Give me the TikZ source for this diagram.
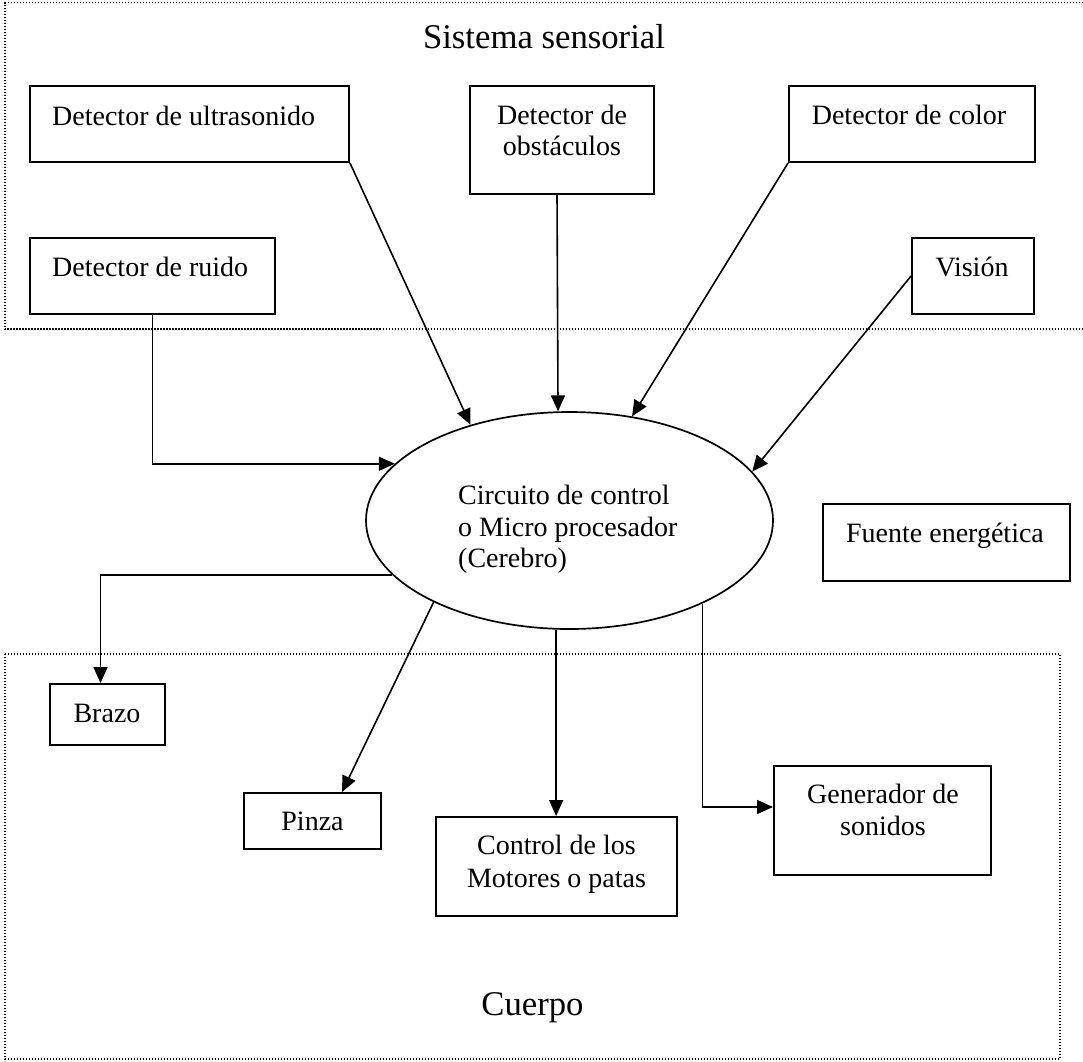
\documentclass[tikz,border=0pt]{standalone}
\usepackage{fontspec}
\setmainfont{Liberation Serif}
\usetikzlibrary{shapes.geometric,arrows.meta}
\begin{document}
\begin{tikzpicture}[x=1pt,y=-1pt,
  box/.style={draw,rectangle,line width=1.9pt,inner sep=0pt},
  txt/.style={inner sep=0pt,font=\fontsize{28}{32}\selectfont},
  heading/.style={inner sep=0pt,font=\fontsize{34.7}{40}\selectfont},
  arr/.style={line width=1.6pt,-{Triangle[length=16pt,width=14pt]}},
  frame/.style={line width=1.2pt,dash pattern=on 1.2pt off 1.8pt}]
\useasboundingbox (0,0) rectangle (1083,1061);

% group frames
\draw[frame] (1083,2.5) -- (5,2.5) -- (5,329) -- (1083,329);
\draw[frame] (5,654) rectangle (1060,1059);
\node[heading,anchor=base] (tsens) at (544,48) {Sistema sensorial};
\node[heading,anchor=base] (tcuer) at (532.5,1015) {Cuerpo};

% sensors
\node[box,minimum width=319pt,minimum height=76pt] (ultra) at (189.5,124) {};
\node[txt,anchor=base west] (tultra) at (52,125) {Detector de ultrasonido};

\node[box,minimum width=245pt,minimum height=76pt] (ruido) at (152.5,276) {};
\node[txt,anchor=base west] (truido) at (52,276) {Detector de ruido};

\node[box,minimum width=184pt,minimum height=108pt] (obst) at (562,140) {};
\node[txt,anchor=base] (tobst1) at (562,124) {Detector de};
\node[txt,anchor=base] (tobst2) at (562,155) {obstáculos};

\node[box,minimum width=246pt,minimum height=76pt] (color) at (912,124) {};
\node[txt,anchor=base] (tcolor) at (909,124) {Detector de color};

\node[box,minimum width=122pt,minimum height=76pt] (vision) at (973,276) {};
\node[txt,anchor=base] (tvision) at (972,276) {Visión};

% controller
\node[draw,ellipse,line width=1.7pt,inner sep=0pt,minimum width=407pt,minimum height=217pt] (cpu) at (569.5,520.5) {};
\node[txt,anchor=base west] (tcpu1) at (458,504) {Circuito de control};
\node[txt,anchor=base west] (tcpu2) at (458,536) {o Micro procesador};
\node[txt,anchor=base west] (tcpu3) at (458,567) {(Cerebro)};

\node[box,minimum width=247pt,minimum height=77pt] (fuente) at (946.5,542.5) {};
\node[txt,anchor=base] (tfuente) at (945,542) {Fuente energética};

% actuators
\node[box,minimum width=115pt,minimum height=61pt] (brazo) at (107.5,714.5) {};
\node[txt,anchor=base] (tbrazo) at (107,722) {Brazo};

\node[box,minimum width=137pt,minimum height=56pt] (pinza) at (312.5,821) {};
\node[txt,anchor=base] (tpinza) at (312.5,830) {Pinza};

\node[box,minimum width=241pt,minimum height=99pt] (ctrl) at (556.5,866.5) {};
\node[txt,anchor=base] (tctrl1) at (556.5,854) {Control de los};
\node[txt,anchor=base] (tctrl2) at (556.5,887) {Motores o patas};

\node[box,minimum width=217pt,minimum height=109pt] (gen) at (882.5,820.5) {};
\node[txt,anchor=base] (tgen1) at (883,803) {Generador de};
\node[txt,anchor=base] (tgen2) at (883,835) {sonidos};

% inputs to the controller
\draw[arr] (ultra.south east) -- (cpu.136.8);
\draw[arr] ([xshift=-5pt]obst.south) -- (cpu.96.6);
\draw[arr] (color.south west) -- (cpu.59.7);
\draw[arr] (vision.west) -- (cpu.15.1);
\draw[arr] (ruido.south) |- (cpu.162.8);

% outputs of the controller
\draw[arr] (cpu.197.6) -| ([xshift=-7pt]brazo.north);
\draw[arr] (cpu.211.9) -- ([xshift=29.5pt]pinza.north);
\draw[arr] (cpu.263.4) -- (cpu.263.4 |- ctrl.north);
\draw[arr] (cpu.328.1) |- ([yshift=13.5pt]gen.west);
\end{tikzpicture}
\end{document}
